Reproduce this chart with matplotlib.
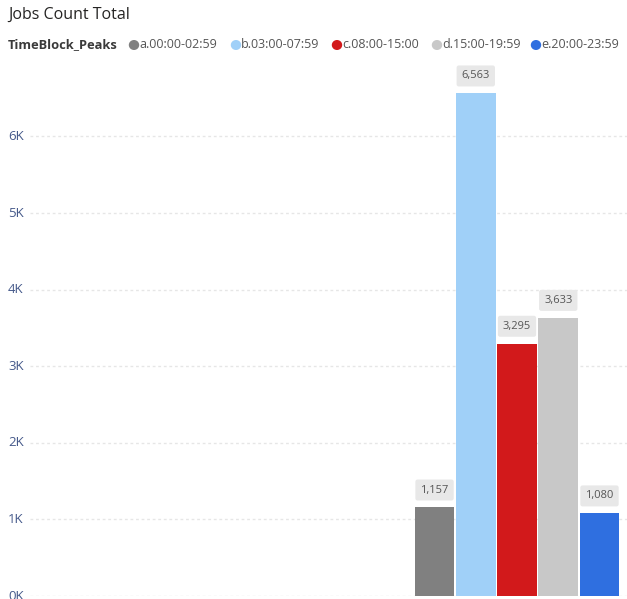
import numpy as np
import matplotlib.pyplot as plt
from matplotlib.transforms import blended_transform_factory

plt.rcParams['font.family'] = ['Open Sans', 'DejaVu Sans']

# data
blocks = ['a.00:00-02:59', 'b.03:00-07:59', 'c.08:00-15:00', 'd.15:00-19:59', 'e.20:00-23:59']
jobs = [1157, 6563, 3295, 3633, 1080]
colors = ['#808080', '#A0D0F8', '#D2191B', '#C8C8C8', '#2F6FE0']
yticks = [0, 1000, 2000, 3000, 4000, 5000, 6000]
ytick_labels = ['0K', '1K', '2K', '3K', '4K', '5K', '6K']

fig = plt.figure(figsize=(6.27, 5.99), dpi=100)
ax = fig.add_axes([30 / 627, 3 / 599, 597 / 627, 528.5 / 599])

x = np.arange(len(jobs))
ax.bar(x, jobs, width=0.96, color=colors, zorder=3)
ax.set_xlim(-9.81, 4.667)
ax.set_ylim(0, 6900)

# dotted gridlines
for v in yticks:
    ax.axhline(v, color='#E6E6E6', lw=1, ls=(0, (2, 2)), zorder=1)

for s in ax.spines.values():
    s.set_visible(False)
ax.set_xticks([])
ax.set_yticks([])

# tick labels left aligned (0K is cut by the bottom edge, like the original)
tr = blended_transform_factory(fig.transFigure, ax.transData)
for v, lab in zip(yticks, ytick_labels):
    ax.text(8 / 627, v, lab, transform=tr, ha='left', va='center',
            fontsize=9.5, color='#45598A', clip_on=False)

# data labels
for xi, v in zip(x, jobs):
    ax.annotate(f'{v:,}', (xi, v), xytext=(0, 12.5), textcoords='offset points',
                ha='center', va='center', fontsize=8, color='#555555',
                bbox=dict(boxstyle='round,pad=0.45,rounding_size=0.2',
                          fc='#E8E8E8', ec='none'), zorder=4)

# title + legend
fig.text(8 / 627, 1 - 15 / 599, 'Jobs Count Total', ha='left', va='center',
         fontsize=11.5, fontweight='medium', color='#252423')
fig.text(8 / 627, 1 - 45 / 599, 'TimeBlock_Peaks', ha='left', va='center',
         fontsize=9.3, fontweight='bold', color='#3A3A3A')
leg_x = [134, 236, 337, 437, 536]
for lx, lab, c in zip(leg_x, blocks, colors):
    fig.patches.append(plt.Circle((lx / 627, 1 - 45 / 599), 4.5 / 627,
                                  transform=fig.transFigure, color=c))
    fig.text((lx + 5) / 627, 1 - 45 / 599, lab, ha='left', va='center',
             fontsize=9, color='#555555')

fig.savefig('out.png', dpi=100)
